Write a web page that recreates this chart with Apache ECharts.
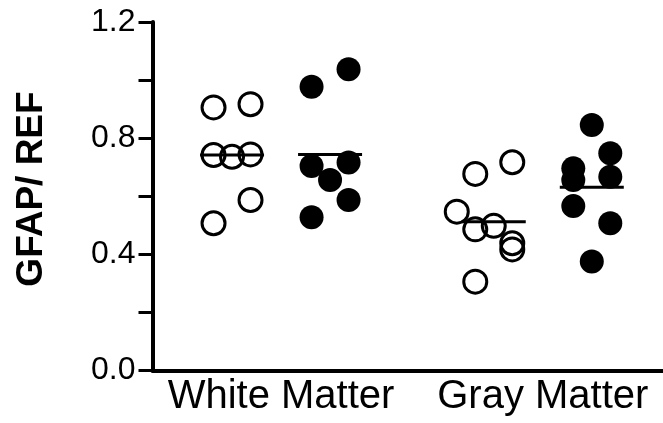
<!DOCTYPE html>
<html>
<head>
<meta charset="utf-8">
<script src="https://cdn.jsdelivr.net/npm/echarts@6/dist/echarts.min.js"></script>
<style>
html,body{margin:0;padding:0;background:#fff;}
#chart{width:663px;height:423px;}
</style>
</head>
<body>
<div id="chart"></div>
<script>
// ---- data ----
var categories = ['White Matter', 'Gray Matter'];
var yTickLabels = ['0.0', '0.4', '0.8', '1.2'];
var yAxisTitle = 'GFAP/ REF';

// group centres on the x scale (column units) and column offsets of each dot
var groupX = [4.3, 9.6, 18.45, 23.75];

var whiteOpenCol   = [-1, 1, -1, 0, 1, 1, -1];
var whiteOpenVal   = [0.906, 0.917, 0.742, 0.736, 0.744, 0.587, 0.507];

var whiteFilledCol = [-1, 1, -1, 1, 0, 1, -1];
var whiteFilledVal = [0.977, 1.037, 0.704, 0.716, 0.656, 0.587, 0.528];

var grayOpenCol    = [-1, 1, -2, -1, 0, 1, 1, -1];
var grayOpenVal    = [0.677, 0.717, 0.547, 0.486, 0.498, 0.438, 0.417, 0.306];

var grayFilledCol  = [0, 1, -1, -1, 1, -1, 1, 0];
var grayFilledVal  = [0.845, 0.748, 0.696, 0.656, 0.667, 0.566, 0.507, 0.375];

var meanValues = [0.742, 0.744, 0.512, 0.631];

// ---- build ----
function pts(g, cols, vals) {
  return vals.map(function (v, i) { return [groupX[g] + cols[i], v]; });
}
var labelPos = [(groupX[0] + groupX[1]) / 2, (groupX[2] + groupX[3]) / 2];
var FONT = "'Liberation Sans', Arial, Helvetica, sans-serif";

var openStyle = { color: 'rgba(0,0,0,0)', borderColor: '#000', borderWidth: 3, opacity: 1 };
var filledStyle = { color: '#000', borderWidth: 0, opacity: 1 };

var chart = echarts.init(document.getElementById('chart'), null, { renderer: 'canvas' });
chart.setOption({
  animation: false,
  backgroundColor: '#fff',
  grid: { left: 152.5, right: 0, top: 22, bottom: 52.5, containLabel: false },
  xAxis: {
    type: 'value', min: 0, max: 27.6,
    axisLine: { show: true, onZero: false, lineStyle: { color: '#000', width: 4 } },
    axisTick: { show: false },
    splitLine: { show: false },
    axisLabel: {
      customValues: labelPos,
      margin: 6,
      color: '#000', fontSize: 40, fontFamily: FONT,
      formatter: function (v) {
        var best = 0;
        for (var i = 1; i < labelPos.length; i++) {
          if (Math.abs(labelPos[i] - v) < Math.abs(labelPos[best] - v)) best = i;
        }
        return categories[best];
      }
    }
  },
  yAxis: {
    type: 'value', min: 0, max: 1.2, interval: 0.2,
    axisLine: { show: true, onZero: false, lineStyle: { color: '#000', width: 4 } },
    axisTick: { show: true, length: 14, lineStyle: { color: '#000', width: 3 } },
    splitLine: { show: false },
    axisLabel: {
      margin: 17, color: '#000', fontSize: 32, fontFamily: FONT,
      formatter: function (v) {
        var k = Math.round(v * 10);
        return k % 4 === 0 ? yTickLabels[k / 4] : '';
      }
    }
  },
  graphic: [{
    type: 'text', x: 31.5, y: 189, rotation: Math.PI / 2,
    style: { text: yAxisTitle, font: 'bold 37px ' + FONT, fill: '#000', align: 'center', verticalAlign: 'middle' }
  }],
  series: [
    { type: 'scatter', symbol: 'circle', symbolSize: 23, itemStyle: openStyle, data: pts(0, whiteOpenCol, whiteOpenVal) },
    { type: 'scatter', symbol: 'circle', symbolSize: 24, itemStyle: filledStyle, data: pts(1, whiteFilledCol, whiteFilledVal) },
    { type: 'scatter', symbol: 'circle', symbolSize: 23, itemStyle: openStyle, data: pts(2, grayOpenCol, grayOpenVal) },
    { type: 'scatter', symbol: 'circle', symbolSize: 24, itemStyle: filledStyle, data: pts(3, grayFilledCol, grayFilledVal) },
    { type: 'scatter', symbol: 'rect', symbolSize: [64, 3], itemStyle: { color: '#000', opacity: 1 }, z: 5,
      data: meanValues.map(function (m, g) { return [groupX[g], m]; }) }
  ]
});
</script>
</body>
</html>
